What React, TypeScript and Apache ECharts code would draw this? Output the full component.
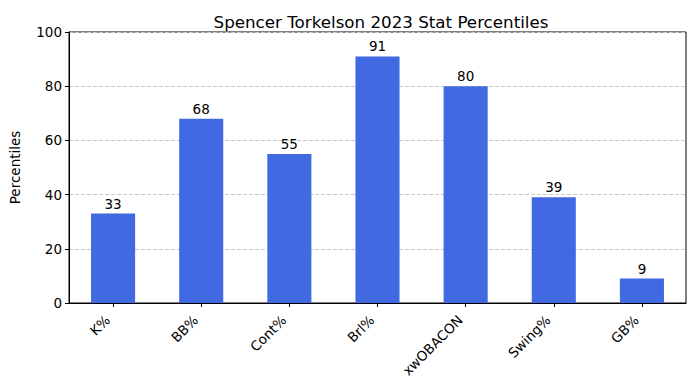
import React, { useEffect, useRef } from "react";
import * as echarts from "echarts";

const categories = ["K%", "BB%", "Cont%", "Brl%", "xwOBACON", "Swing%", "GB%"];
const percentiles = [33, 68, 55, 91, 80, 39, 9];
const yTicks = { min: 0, max: 100, interval: 20 };

const FONT = "DejaVu Sans";

export default function App() {
  const ref = useRef<HTMLDivElement>(null);
  useEffect(() => {
    if (!ref.current) return;
    const chart = echarts.init(ref.current, null, { renderer: "svg" });
    chart.setOption({
      animation: false,
      textStyle: { fontFamily: FONT },
      title: {
        text: "Spencer Torkelson 2023 Stat Percentiles",
        left: 376,
        textAlign: "center",
        top: 8,
        textStyle: { fontFamily: FONT, fontSize: 16.7, fontWeight: "normal", color: "#000" },
      },
      grid: {
        left: 66,
        right: 9,
        top: 32,
        bottom: 87,
        show: true,
        borderColor: "#000",
        borderWidth: 1,
        backgroundColor: "transparent",
      },
      xAxis: {
        type: "category",
        data: categories,
        axisLine: { show: true, lineStyle: { color: "#000", width: 1 } },
        axisTick: { show: true, alignWithLabel: true, length: 4, lineStyle: { color: "#000" } },
        axisLabel: {
          rotate: 45,
          color: "#000",
          fontSize: 13.5,
          fontFamily: FONT,
          margin: 9,
          interval: 0,
          formatter: (v: string) => "{a|" + v + "}",
          rich: {
            a: { fontSize: 13.5, fontFamily: FONT, color: "#000", padding: [0, 8, 0, 0] },
          },
        },
        splitLine: { show: false },
      },
      yAxis: {
        type: "value",
        min: yTicks.min,
        max: yTicks.max,
        interval: yTicks.interval,
        name: "Percentiles",
        nameLocation: "middle",
        nameGap: 47,
        nameTextStyle: { fontFamily: FONT, fontSize: 13.5, color: "#000" },
        axisLine: { show: true, lineStyle: { color: "#000", width: 1 } },
        axisTick: { show: true, length: 4, lineStyle: { color: "#000" } },
        axisLabel: { color: "#000", fontSize: 13.5, fontFamily: FONT, margin: 7 },
        splitLine: { show: true, lineStyle: { color: "#c8c8c8", type: [4, 2], width: 1 } },
      },
      series: [
        {
          type: "bar",
          data: percentiles,
          barWidth: "50%",
          itemStyle: { color: "#4169E1" },
          label: { show: true, position: "top", distance: 3, color: "#000", fontSize: 13.5, fontFamily: FONT },
        },
      ],
    });
    return () => chart.dispose();
  }, []);
  return <div ref={ref} style={{ width: 695, height: 390, margin: -8 }} />;
}
